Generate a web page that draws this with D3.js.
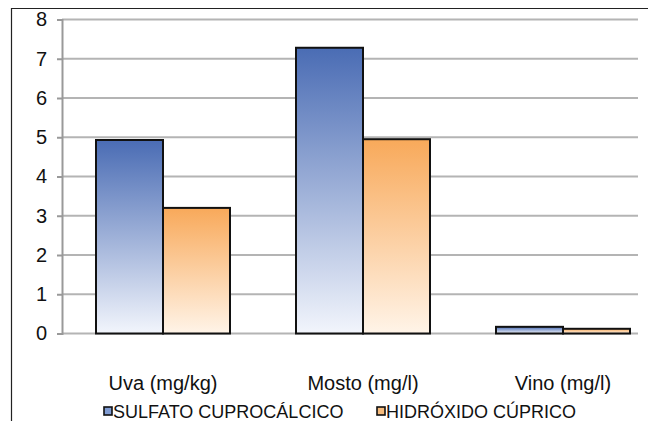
<!DOCTYPE html>
<html><head><meta charset="utf-8">
<script src="https://cdn.jsdelivr.net/npm/d3@7"></script>
<style>body{margin:0;background:#fff}svg{display:block;font-family:"Liberation Sans",Arial,sans-serif}</style>
</head><body><svg id="c" width="648" height="421"></svg>
<script>
const categories = ["Uva (mg/kg)", "Mosto (mg/l)", "Vino (mg/l)"];
const seriesNames = ["SULFATO CUPROCÁLCICO", "HIDRÓXIDO CÚPRICO"];
const sulfato = [4.93, 7.28, 0.17];
const hidroxido = [3.2, 4.95, 0.12];
const yTicks = [0, 1, 2, 3, 4, 5, 6, 7, 8];

const svg = d3.select("#c");
const defs = svg.append("defs");
const grads = [["gBlue", "#4a6cb4", "#f2f5fc"], ["gOrange", "#f8a95a", "#fff4e8"]];
grads.forEach(([id, a, b]) => {
  const g = defs.append("linearGradient").attr("id", id).attr("x1", 0).attr("y1", 0).attr("x2", 0).attr("y2", 1);
  g.append("stop").attr("offset", "0%").attr("stop-color", a);
  g.append("stop").attr("offset", "100%").attr("stop-color", b);
});

// frame
svg.append("line").attr("x1", 11).attr("x2", 648).attr("y1", 8.5).attr("y2", 8.5).attr("stroke", "#222").attr("stroke-width", 1.2);
svg.append("line").attr("x1", 11.5).attr("x2", 11.5).attr("y1", 8).attr("y2", 421).attr("stroke", "#222").attr("stroke-width", 1.2);

const left = 62, right = 638;
const y = d3.scaleLinear().domain([0, 8]).range([333.5, 19.5]);
const x = d3.scaleBand().domain(categories).range([63, 663]).paddingInner(0).paddingOuter(0);
const xs = d3.scaleBand().domain([0, 1]).range([33, 167]).paddingInner(0).paddingOuter(0);

// gridlines
svg.append("g").selectAll("line").data(yTicks).join("line")
  .attr("x1", left).attr("x2", right).attr("y1", d => y(d)).attr("y2", d => y(d))
  .attr("stroke", "#b4b4b4").attr("stroke-width", 2);

// y axis
const ya = svg.append("g").attr("transform", `translate(${left},0)`)
  .call(d3.axisLeft(y).tickValues(yTicks).tickSize(5).tickPadding(10).tickFormat(d3.format("d")));
ya.select(".domain").attr("stroke", "#999").attr("stroke-width", 2);
ya.selectAll(".tick line").attr("stroke", "#999").attr("stroke-width", 2);
ya.selectAll("text").attr("font-size", 20).attr("fill", "#111").attr("font-family", "Liberation Sans, Arial, sans-serif");

// bars
const data = [sulfato, hidroxido];
data.forEach((vals, si) => {
  svg.append("g").selectAll("rect").data(vals).join("rect")
    .attr("x", (d, i) => x(categories[i]) + xs(si))
    .attr("width", xs.bandwidth())
    .attr("y", d => y(d))
    .attr("height", d => y(0) - y(d))
    .attr("fill", `url(#${grads[si][0]})`)
    .attr("stroke", "#111").attr("stroke-width", 2);
});

// category labels
svg.append("g").selectAll("text").data(categories).join("text")
  .attr("x", d => x(d) + x.bandwidth() / 2).attr("y", 390)
  .attr("text-anchor", "middle").attr("font-size", 20).attr("fill", "#111").text(d => d);

// legend
const legX = [104, 377];
const legColors = ["#7f9bd2", "#f6bb7c"];
seriesNames.forEach((n, i) => {
  svg.append("rect").attr("x", legX[i]).attr("y", 407).attr("width", 8).attr("height", 8)
    .attr("fill", legColors[i]).attr("stroke", "#111").attr("stroke-width", 1.6);
  svg.append("text").attr("x", legX[i] + 9).attr("y", 418).attr("font-size", 18).attr("fill", "#111").text(n);
});
</script></body></html>
